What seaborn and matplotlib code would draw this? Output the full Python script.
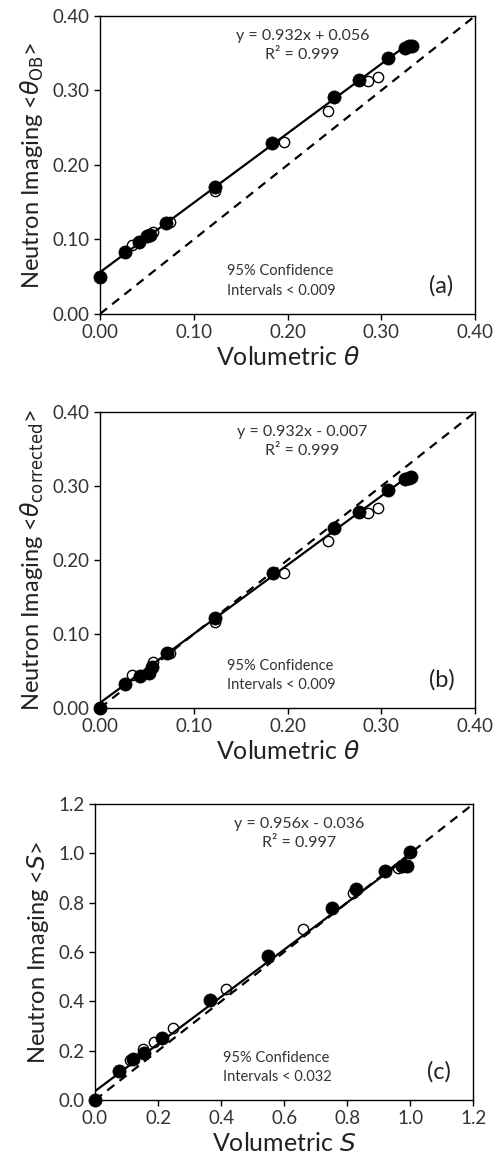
import numpy as np
import pandas as pd
import seaborn as sns
import matplotlib.pyplot as plt

# panel (a): raw open-beam water content
a_filled_x = [0.0, 0.027, 0.042, 0.050, 0.053, 0.070, 0.123, 0.183, 0.250, 0.276, 0.307, 0.325, 0.329, 0.333]
a_filled_y = [0.049, 0.083, 0.096, 0.104, 0.106, 0.122, 0.171, 0.229, 0.291, 0.314, 0.343, 0.357, 0.359, 0.360]
a_open_x = [0.034, 0.056, 0.075, 0.123, 0.196, 0.243, 0.286, 0.296]
a_open_y = [0.092, 0.110, 0.123, 0.165, 0.231, 0.273, 0.312, 0.318]

# panel (b): corrected water content
b_filled_x = [0.0, 0.027, 0.043, 0.052, 0.055, 0.071, 0.123, 0.184, 0.250, 0.276, 0.307, 0.325, 0.329, 0.332]
b_filled_y = [0.0, 0.033, 0.043, 0.047, 0.056, 0.074, 0.122, 0.182, 0.243, 0.265, 0.295, 0.310, 0.311, 0.312]
b_open_x = [0.034, 0.056, 0.075, 0.123, 0.196, 0.243, 0.286, 0.296]
b_open_y = [0.044, 0.062, 0.074, 0.116, 0.183, 0.226, 0.264, 0.271]

# panel (c): saturation
c_filled_x = [0.0, 0.075, 0.122, 0.155, 0.211, 0.365, 0.550, 0.751, 0.828, 0.920, 0.973, 0.989, 1.000]
c_filled_y = [0.0, 0.119, 0.167, 0.190, 0.251, 0.404, 0.583, 0.780, 0.854, 0.929, 0.949, 0.949, 1.007]
c_open_x = [0.111, 0.151, 0.187, 0.246, 0.414, 0.661, 0.817, 0.962]
c_open_y = [0.163, 0.207, 0.237, 0.293, 0.449, 0.693, 0.838, 0.942]

# fit lines (slope, intercept, x range)
fit_slope = [0.932, 0.932, 0.956]
fit_icept = [0.056, 0.007, 0.036]
fit_xmax = [0.333, 0.333, 1.0]

eq_text = ["y = 0.932x + 0.056\nR² = 0.999",
           "y = 0.932x - 0.007\nR² = 0.999",
           "y = 0.956x - 0.036\nR² = 0.997"]
ci_text = ["95% Confidence\nIntervals < 0.009",
           "95% Confidence\nIntervals < 0.009",
           "95% Confidence\nIntervals < 0.032"]
panel_tag = ["(a)", "(b)", "(c)"]
x_labels = [r"Volumetric $\theta$", r"Volumetric $\theta$", r"Volumetric $S$"]
y_labels = [r"Neutron Imaging <$\theta_{\rm OB}$>",
            r"Neutron Imaging <$\theta_{\rm corrected}$>",
            r"Neutron Imaging <$S$>"]
axis_max = [0.4, 0.4, 1.2]
tick_vals = [[0.0, 0.1, 0.2, 0.3, 0.4], [0.0, 0.1, 0.2, 0.3, 0.4],
             [0.0, 0.2, 0.4, 0.6, 0.8, 1.0, 1.2]]
tick_fmt = ["{:.2f}", "{:.2f}", "{:.1f}"]

sns.set_style("ticks")
plt.rcParams['font.family'] = ['Lato', 'DejaVu Sans']
plt.rcParams['mathtext.fontset'] = 'dejavusans'

fig = plt.figure(figsize=(4.95, 11.67), dpi=100)
boxes = [[0.202, 0.731, 0.758, 0.2554],
         [0.202, 0.3933, 0.758, 0.2536],
         [0.192, 0.0574, 0.764, 0.2536]]

panels = [(a_filled_x, a_filled_y, a_open_x, a_open_y),
          (b_filled_x, b_filled_y, b_open_x, b_open_y),
          (c_filled_x, c_filled_y, c_open_x, c_open_y)]

for i, (fx, fy, ox, oy) in enumerate(panels):
    ax = fig.add_axes(boxes[i])
    mx = axis_max[i]

    # 1:1 line
    one = pd.DataFrame({'x': [0, mx], 'y': [0, mx]})
    sns.lineplot(data=one, x='x', y='y', ax=ax, color='black', lw=1.6,
                 linestyle=(0, (4, 3)), zorder=2)

    sns.scatterplot(x=ox, y=oy, ax=ax, s=55, facecolor='white',
                    edgecolor='black', linewidth=1.0, zorder=3, clip_on=False)
    sns.scatterplot(x=fx, y=fy, ax=ax, s=90, color='black',
                    edgecolor='black', linewidth=0.5, zorder=4, clip_on=False)

    fit = pd.DataFrame({'x': [0, fit_xmax[i]]})
    fit['y'] = fit_slope[i] * fit['x'] + fit_icept[i]
    sns.lineplot(data=fit, x='x', y='y', ax=ax, color='black', lw=1.6, zorder=5)

    ax.set_xlim(0, mx)
    ax.set_ylim(0, mx)
    ax.set_xticks(tick_vals[i])
    ax.set_yticks(tick_vals[i])
    ax.set_xticklabels([tick_fmt[i].format(v) for v in tick_vals[i]])
    ax.set_yticklabels([tick_fmt[i].format(v) for v in tick_vals[i]])
    ax.tick_params(direction='out', length=4, width=1, labelsize=13.5,
                   colors='black', labelcolor='#333333')
    for sp in ax.spines.values():
        sp.set_visible(True)
        sp.set_color('black')
        sp.set_linewidth(1.0)

    ax.set_xlabel(x_labels[i], fontsize=18, color='#222222', labelpad=3)
    ax.set_ylabel(y_labels[i], fontsize=17, color='#222222', labelpad=5)

    ax.text(0.54, 0.90, eq_text[i], transform=ax.transAxes, ha='center',
            va='center', fontsize=11.5, linespacing=1.45, color='#333333')
    ax.text(0.338, 0.11, ci_text[i], transform=ax.transAxes, ha='left',
            va='center', fontsize=10.5, linespacing=1.5, color='#333333')
    ax.text(0.91, 0.094, panel_tag[i], transform=ax.transAxes, ha='center',
            va='center', fontsize=17, color='#222222')

fig.savefig('out.png', dpi=100)
